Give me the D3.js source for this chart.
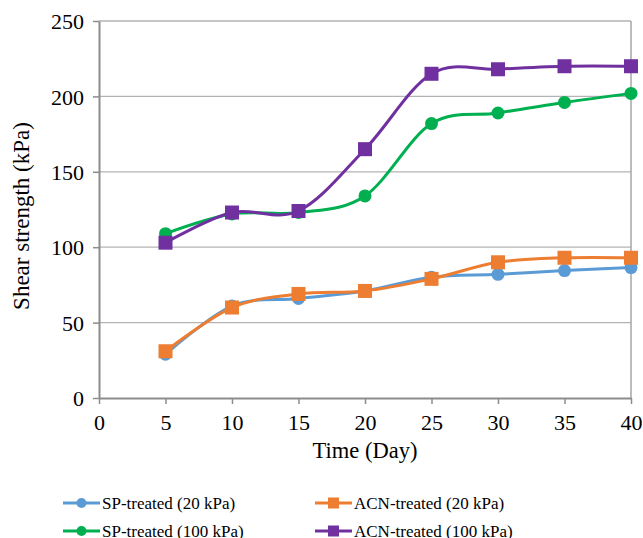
<!DOCTYPE html>
<html>
<head>
<meta charset="utf-8">
<script src="https://cdn.jsdelivr.net/npm/d3@7"></script>
<style>
  body { margin: 0; background: #fff; }
</style>
</head>
<body>
<div class="chart"></div>
<script>
// data
var days = [5, 10, 15, 20, 25, 30, 35, 40];
var sp20 = [29, 61, 66, 71, 80, 82, 84.5, 86.5];
var acn20 = [31, 60, 69, 71, 79, 90, 93, 93];
var sp100 = [109, 122, 123, 134, 182, 189, 196, 202];
var acn100 = [103, 123, 124, 165, 215, 218, 220, 220];
var xTicks = [0, 5, 10, 15, 20, 25, 30, 35, 40];
var yTicks = [0, 50, 100, 150, 200, 250];

var series = [
  {name: "SP-treated (20 kPa)", values: sp20, color: "#5B9BD5", shape: "circle"},
  {name: "ACN-treated (20 kPa)", values: acn20, color: "#ED7D31", shape: "square"},
  {name: "SP-treated (100 kPa)", values: sp100, color: "#00B050", shape: "circle"},
  {name: "ACN-treated (100 kPa)", values: acn100, color: "#7030A0", shape: "square"}
];

var FONT = "'Liberation Serif', 'Times New Roman', serif";
var width = 643, height = 538;
var svg = d3.select("div.chart").append("svg")
    .attr("width", width)
    .attr("height", height);

var x = d3.scaleLinear().domain([0, 40]).range([99, 631]);
var y = d3.scaleLinear().domain([0, 250]).range([398, 21]);

// gridlines
svg.append("g").selectAll("line").data(yTicks.slice(1)).enter().append("line")
    .attr("x1", x(0)).attr("x2", x(40))
    .attr("y1", function(d) { return y(d); }).attr("y2", function(d) { return y(d); })
    .attr("stroke", "#b3b3b3").attr("stroke-width", 1.3);

// right border
svg.append("line")
    .attr("x1", x(40)).attr("x2", x(40)).attr("y1", y(250)).attr("y2", y(0))
    .attr("stroke", "#a6a6a6").attr("stroke-width", 1.5);

// axes
var xAxis = svg.append("g")
    .attr("transform", "translate(0," + y(0) + ")")
    .call(d3.axisBottom(x).tickValues(xTicks).tickSize(6).tickPadding(10).tickSizeOuter(0));
var yAxis = svg.append("g")
    .attr("transform", "translate(" + x(0) + ",0)")
    .call(d3.axisLeft(y).tickValues(yTicks).tickSize(6).tickPadding(9).tickSizeOuter(0));

[xAxis, yAxis].forEach(function(a) {
    a.attr("font-family", null).attr("font-size", null);
    a.select(".domain").attr("stroke", "#8c8c8c").attr("stroke-width", 2);
    a.selectAll(".tick line").attr("stroke", "#8c8c8c").attr("stroke-width", 1.5);
    a.selectAll("text").style("font-family", FONT).style("font-size", "22px").attr("fill", "#000");
});
yAxis.selectAll("text").attr("dy", "0.35em");

// axis titles
svg.append("text")
    .attr("x", 365).attr("y", 458)
    .attr("text-anchor", "middle")
    .style("font-family", FONT).style("font-size", "22.5px")
    .text("Time (Day)");
svg.append("text")
    .attr("transform", "translate(29,216) rotate(-90)")
    .attr("text-anchor", "middle")
    .style("font-family", FONT).style("font-size", "23px")
    .text("Shear strength (kPa)");

var line = d3.line()
    .x(function(d, i) { return x(days[i]); })
    .y(function(d) { return y(d); })
    .curve(d3.curveCardinal.tension(0));

function drawMarker(g, shape, color, cx, cy) {
    if (shape === "circle") {
        g.append("circle").attr("cx", cx).attr("cy", cy).attr("r", 6.5).attr("fill", color);
    } else {
        g.append("rect").attr("x", cx - 7).attr("y", cy - 7).attr("width", 14).attr("height", 14).attr("fill", color);
    }
}

series.forEach(function(s) {
    var g = svg.append("g");
    g.append("path")
        .attr("d", line(s.values))
        .attr("fill", "none")
        .attr("stroke", s.color)
        .attr("stroke-width", 3);
    s.values.forEach(function(v, i) {
        drawMarker(g, s.shape, s.color, x(days[i]), y(v));
    });
});

// legend
var legendPos = [[63, 503], [315, 503], [63, 531], [315, 531]];
series.forEach(function(s, i) {
    var p = legendPos[i];
    var g = svg.append("g");
    g.append("line")
        .attr("x1", p[0]).attr("x2", p[0] + 37)
        .attr("y1", p[1]).attr("y2", p[1])
        .attr("stroke", s.color).attr("stroke-width", 3);
    if (s.shape === "circle") {
        g.append("circle").attr("cx", p[0] + 18.5).attr("cy", p[1]).attr("r", 5).attr("fill", s.color);
    } else {
        g.append("rect").attr("x", p[0] + 13).attr("y", p[1] - 5.5).attr("width", 11).attr("height", 11).attr("fill", s.color);
    }
    g.append("text")
        .attr("x", p[0] + 39).attr("y", p[1])
        .attr("dy", "0.35em")
        .style("font-family", FONT).style("font-size", "17px")
        .text(s.name);
});
</script>
</body>
</html>
